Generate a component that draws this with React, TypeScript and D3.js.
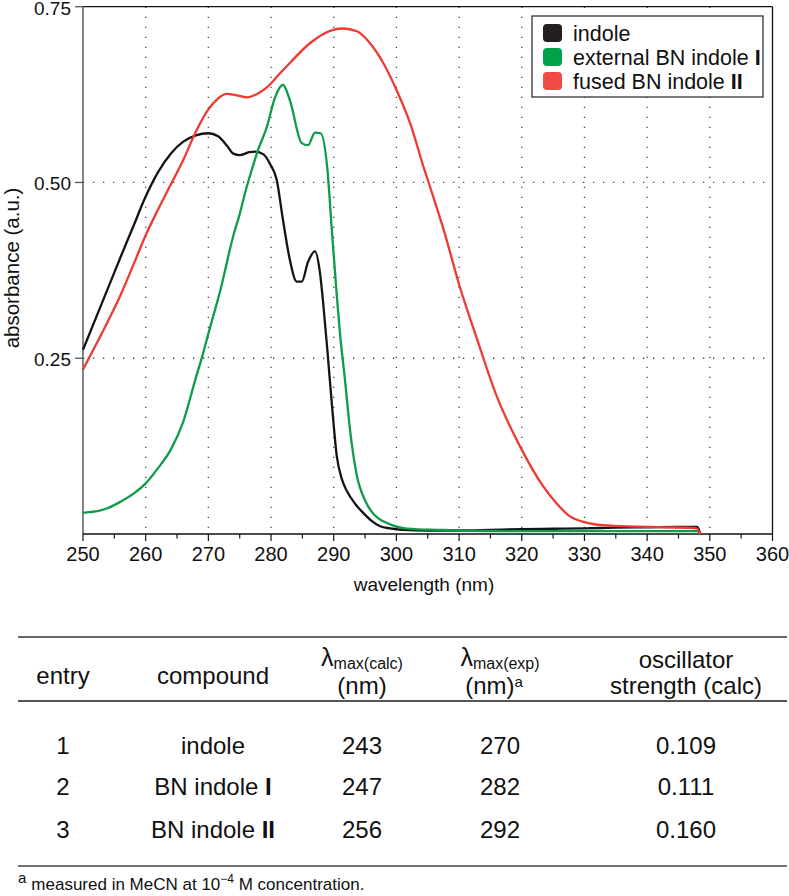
import React from "react";
import * as d3 from "d3";

// ---------- data ----------
const indoleX = [250, 252, 254, 256, 258, 260, 262, 264, 266, 268, 270, 271.5, 273, 274, 275, 276.5, 277.5, 278.8, 279.8, 280.9, 281.9, 283, 284.1, 284.9, 285.9, 287, 287.8, 288.3, 289, 289.7, 290.5, 291.3, 292.1, 293.5, 294.7, 296, 297.4, 299, 301, 305, 310, 315, 320, 325, 330, 335, 340, 345, 348, 348.5];
const indoleY = [0.262, 0.306, 0.35, 0.394, 0.437, 0.48, 0.515, 0.541, 0.558, 0.567, 0.57, 0.566, 0.552, 0.541, 0.539, 0.543, 0.544, 0.54, 0.527, 0.504, 0.447, 0.39, 0.359, 0.359, 0.387, 0.402, 0.372, 0.33, 0.26, 0.185, 0.11, 0.078, 0.061, 0.042, 0.03, 0.019, 0.011, 0.008, 0.006, 0.005, 0.005, 0.006, 0.007, 0.0075, 0.008, 0.009, 0.0095, 0.01, 0.01, 0];

const bnIX = [250, 251, 252.5, 254, 256, 258, 260, 262, 264, 266, 268, 269, 270, 272, 274, 275, 276, 277, 278, 279.3, 280.6, 281.9, 283, 284.9, 285.9, 287, 287.9, 289, 289.7, 290.5, 291, 291.8, 292.6, 293.6, 295.2, 296.5, 297.9, 299.5, 301.1, 303, 306.4, 310, 320, 330, 340, 348, 348.5];
const bnIY = [0.03, 0.031, 0.033, 0.037, 0.046, 0.057, 0.072, 0.094, 0.12, 0.16, 0.222, 0.252, 0.285, 0.35, 0.425, 0.455, 0.49, 0.52, 0.548, 0.578, 0.62, 0.639, 0.617, 0.556, 0.553, 0.571, 0.57, 0.518, 0.432, 0.338, 0.285, 0.219, 0.148, 0.087, 0.044, 0.027, 0.018, 0.012, 0.0085, 0.007, 0.006, 0.005, 0.004, 0.004, 0.004, 0.004, 0];

const bnIIX = [250, 252, 254, 256, 258, 260, 262, 264, 266, 268, 270, 271.5, 272.9, 274.5, 276.1, 278.2, 279.8, 281, 283, 286.2, 289.9, 291.5, 293.7, 295.8, 297.9, 300, 302.2, 304.3, 305.1, 307.7, 310.1, 312.8, 316, 319.7, 323.4, 325.5, 327.7, 330, 333, 338.3, 343, 347.8, 348.5];
const bnIIY = [0.234, 0.268, 0.303, 0.34, 0.382, 0.425, 0.462, 0.497, 0.532, 0.572, 0.604, 0.619, 0.626, 0.624, 0.621, 0.628, 0.639, 0.651, 0.67, 0.698, 0.717, 0.719, 0.715, 0.698, 0.67, 0.632, 0.584, 0.523, 0.501, 0.428, 0.352, 0.279, 0.196, 0.125, 0.068, 0.044, 0.025, 0.017, 0.0125, 0.0105, 0.0095, 0.0085, 0];

const seriesNames = ["indole", "external BN indole ", "fused BN indole "];
const seriesBold = ["", "I", "II"];
const seriesColors = ["#141414", "#0e9c48", "#ee3a31"];
const swatchColors = ["#231f20", "#00a14b", "#f24a46"];

const xTicks = [250, 260, 270, 280, 290, 300, 310, 320, 330, 340, 350, 360];
const xMinorTicks = [255, 265, 275, 285, 295, 305, 315, 325, 335, 345, 355];
const yTicks = [0.25, 0.5, 0.75];
const yTickLabels = ["0.25", "0.50", "0.75"];

const tableEntry = ["1", "2", "3"];
const tableCompound = ["indole", "BN indole ", "BN indole "];
const tableCompoundBold = ["", "I", "II"];
const tableCalc = ["243", "247", "256"];
const tableExp = ["270", "282", "292"];
const tableOsc = ["0.109", "0.111", "0.160"];

// ---------- layout ----------
const W = 789;
const H = 896;
const FONT = "'Liberation Sans', Arial, Helvetica, sans-serif";

export default function App() {
  const x = d3.scaleLinear().domain([250, 360]).range([83, 772.5]);
  const y = d3.scaleLinear().domain([0, 0.75]).range([534, 6.7]);
  const line = d3
    .line<[number, number]>()
    .x((d) => x(d[0]))
    .y((d) => y(d[1]))
    .curve(d3.curveMonotoneX);

  const series = [
    indoleX.map((v, i) => [v, indoleY[i]] as [number, number]),
    bnIX.map((v, i) => [v, bnIY[i]] as [number, number]),
    bnIIX.map((v, i) => [v, bnIIY[i]] as [number, number]),
  ];

  const [x0, x1] = x.range();
  const [yb, yt] = y.range();
  const gridX = xTicks.filter((t) => t > 250 && t < 360);
  const gridY = yTicks.filter((t) => t < 0.75);

  const colX = [63, 213, 362, 500, 686];
  const rowY = [754, 795, 838];

  return (
    <svg
      width={W}
      height={H}
      viewBox={`0 0 ${W} ${H}`}
      style={{ position: "absolute", left: 0, top: 0, background: "#fff" }}
      fontFamily={FONT}
    >
      <rect x={0} y={0} width={W} height={H} fill="#fff" />
      {/* grid */}
      {gridX.map((t) => (
        <line key={"gx" + t} x1={x(t)} x2={x(t)} y1={yt} y2={yb} stroke="#444" strokeWidth={1.3} strokeDasharray="1.3,8.7" />
      ))}
      {gridY.map((t) => (
        <line key={"gy" + t} x1={x0} x2={x1} y1={y(t)} y2={y(t)} stroke="#444" strokeWidth={1.3} strokeDasharray="1.3,8.7" />
      ))}

      {/* frame */}
      <line x1={x0} x2={x1} y1={yt} y2={yt} stroke="#111" strokeWidth={1.3} />
      <line x1={x1} x2={x1} y1={yt} y2={yb} stroke="#111" strokeWidth={1.3} />
      <line x1={x0} x2={x0} y1={yt} y2={yb} stroke="#666" strokeWidth={1.6} />
      <line x1={x0} x2={x1} y1={yb} y2={yb} stroke="#111" strokeWidth={1.6} />

      {/* x ticks */}
      {xTicks.map((t) => (
        <g key={"xt" + t}>
          <line x1={x(t)} x2={x(t)} y1={yb} y2={yb + 7} stroke="#111" strokeWidth={1.2} />
          <text x={x(t)} y={yb + 27} textAnchor="middle" fontSize={20} fill="#111">
            {t}
          </text>
        </g>
      ))}
      {xMinorTicks.map((t) => (
        <line key={"xm" + t} x1={x(t)} x2={x(t)} y1={yb} y2={yb + 4.5} stroke="#111" strokeWidth={1.2} />
      ))}

      {/* y ticks */}
      {yTicks.map((t, i) => (
        <g key={"yt" + t}>
          <line x1={x0 - 8} x2={x0} y1={y(t)} y2={y(t)} stroke="#555" strokeWidth={1.3} />
          <text x={x0 - 12} y={y(t) + 8} textAnchor="end" fontSize={19} fill="#111">
            {yTickLabels[i]}
          </text>
        </g>
      ))}

      {/* axis labels */}
      <text x={424} y={591} textAnchor="middle" fontSize={19} fill="#111">
        wavelength (nm)
      </text>
      <text transform={`translate(19, 268) rotate(-90)`} textAnchor="middle" fontSize={20.5} fill="#111">
        absorbance (a.u.)
      </text>

      {/* curves */}
      {series.map((s, i) => (
        <path key={"s" + i} d={line(s) || ""} fill="none" stroke={seriesColors[i]} strokeWidth={2.3} strokeLinejoin="round" />
      ))}

      {/* legend */}
      <rect x={532} y={16} width={231} height={81} fill="#fff" stroke="#333" strokeWidth={1.3} />
      {seriesNames.map((n, i) => (
        <g key={"lg" + i}>
          <rect x={543} y={24 + i * 24} width={19} height={18} rx={4} fill={swatchColors[i]} />
          <text x={573} y={40.5 + i * 24} fontSize={21.5} fill="#111">
            {n}
            {seriesBold[i] && <tspan fontWeight="bold">{seriesBold[i]}</tspan>}
          </text>
        </g>
      ))}

      {/* table */}
      <line x1={18} x2={787} y1={637} y2={637} stroke="#333" strokeWidth={1.5} />
      <line x1={18} x2={787} y1={701} y2={701} stroke="#555" strokeWidth={2.2} />
      <line x1={18} x2={787} y1={866} y2={866} stroke="#444" strokeWidth={1.5} />

      <g fontSize={24} fill="#111" textAnchor="middle">
        <text x={colX[0]} y={684}>entry</text>
        <text x={colX[1]} y={684}>compound</text>
        <text x={colX[2]} y={666}>
          <tspan fontSize={25}>λ</tspan>
          <tspan fontSize={16} dy={3}>max(calc)</tspan>
        </text>
        <text x={colX[2]} y={694}>(nm)</text>
        <text x={colX[3]} y={666}>
          <tspan fontSize={25}>λ</tspan>
          <tspan fontSize={16} dy={3}>max(exp)</tspan>
        </text>
        <text x={colX[3] - 6} y={694}>
          (nm)
          <tspan fontSize={15} dy={-7}>a</tspan>
        </text>
        <text x={colX[4]} y={668}>oscillator</text>
        <text x={colX[4]} y={694}>strength (calc)</text>

        {rowY.map((ry, i) => (
          <g key={"row" + i}>
            <text x={colX[0]} y={ry}>{tableEntry[i]}</text>
            <text x={colX[1]} y={ry}>
              {tableCompound[i]}
              {tableCompoundBold[i] && <tspan fontWeight="bold">{tableCompoundBold[i]}</tspan>}
            </text>
            <text x={colX[2]} y={ry}>{tableCalc[i]}</text>
            <text x={colX[3]} y={ry}>{tableExp[i]}</text>
            <text x={colX[4]} y={ry}>{tableOsc[i]}</text>
          </g>
        ))}
      </g>

      {/* footnote */}
      <text x={18} y={890} fontSize={17} fill="#111">
        <tspan fontSize={15} dy={-7}>a</tspan>
        <tspan dx={5} dy={7}>measured in MeCN at 10</tspan>
        <tspan fontSize={12} dy={-7}>−4</tspan>
        <tspan dy={7}> M concentration.</tspan>
      </text>
    </svg>
  );
}
